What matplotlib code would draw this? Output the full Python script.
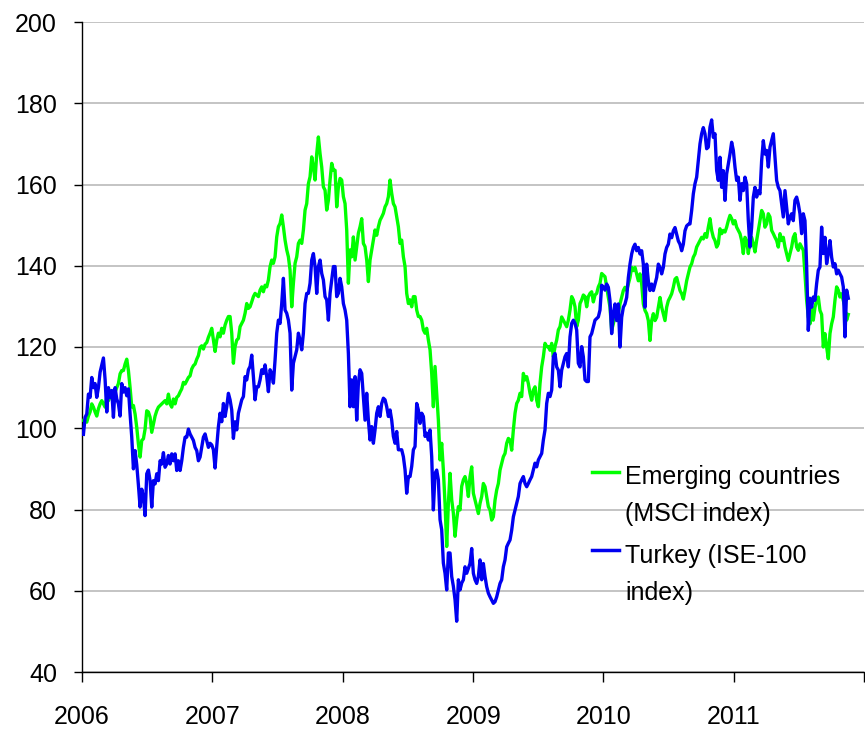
import matplotlib
matplotlib.use('Agg')
import matplotlib.pyplot as plt
from matplotlib.lines import Line2D
import pandas as pd

plt.rcParams['font.family'] = ['Liberation Sans', 'DejaVu Sans']

# index values (start 2006 = ~100), sampled roughly every 4-5 days
msci_2006 = [101.9, 101.7, 101.5, 103, 104, 106, 105.2, 104, 103, 104.8, 106, 106.8, 106, 105.2, 107.6, 106.8,
             107.6, 108.4, 107.6, 108.9, 110, 111, 113.4, 114.2, 114.2, 115.8, 117, 114.2, 110, 105.2, 105.6, 103.5,
             100.2, 96.1, 92.9, 97, 97.4, 99.8, 104.3, 104, 102.7, 99, 101, 103, 104.3, 105.2, 105.6, 106,
             106.4, 106.8, 106, 108.4, 106, 105.2, 107.2, 106, 107.6, 108, 108.9, 109.7, 111.3, 110.9, 111.7, 112.5,
             112.9, 114.6, 115.4, 115.8, 117, 117.9, 119.9, 120.3, 119.5, 120.7, 121.1, 122.4]
ise_2006 = [98.5, 102.7, 103.5, 108.4, 107.6, 112.5, 110, 111, 107.6, 110, 113.8, 115.5, 117.3, 112, 104, 110,
            107.6, 109.3, 102.7, 110, 107.2, 106, 103, 111, 108.9, 110, 108, 109.7, 103.5, 97.8, 90, 94.5,
            91, 86, 80.6, 85, 83, 78.5, 88.8, 89.7, 87.1, 80.6, 87.1, 86.3, 88.8, 87.1, 92, 91.2,
            94, 90.4, 91.2, 93.3, 91.2, 93.7, 92, 93.7, 89.6, 92, 89.6, 92, 95.3, 97.8, 97.8, 99.8,
            98.6, 97.8, 97, 95.3, 94.5, 92, 92.9, 95.3, 97.8, 98.6, 97, 95.3]

msci_2007 = [123.4, 124.6, 121.7, 118.9, 121.7, 123.4, 122.5, 124.6, 123.4, 125.4, 126.6, 127.5, 127.5, 123.4, 116,
             120.1, 121.7, 122.1, 125, 125.8, 126.6, 128.3, 130.7, 129.5, 129.9, 131.1, 132.4, 133.2, 132.8, 132.4,
             134, 134.8, 133.6, 135.2, 134.8, 136.5, 139.8, 141.4, 140.6, 142.2, 147.1, 149.6, 150.4, 152.5, 149.6,
             146.3, 143.9, 142.2, 138.9, 129.9, 135.7, 140.6, 142.2, 145.5, 146.3, 145.5, 148.8, 153.7, 155.3, 160.2,
             161.9, 166.8, 164.3, 161.1, 167.6, 171.7, 167.6, 164.3, 159.4, 158.6, 153.7, 156.1, 161.1, 165.2, 163.5]
ise_2007 = [96.3, 95.9, 94.7, 90.2, 95.5, 100.4, 103.7, 101.6, 106.1, 102.9, 105.3, 108.6, 107, 104.5, 97.5,
            101.6, 99.6, 103.7, 105.3, 107, 107.8, 112.7, 111.9, 114.4, 115.2, 118, 112.7, 107, 110.2, 110.2,
            111.9, 114.4, 113.5, 115.6, 112.7, 109, 114.4, 113.5, 111.1, 116.8, 123.4, 126.6, 125.8, 130.7, 136.9,
            129.1, 128.3, 126.6, 123.4, 109.4, 116, 117.6, 119.3, 123.4, 121.7, 119.3, 123.4, 130.7, 133.2, 133.2,
            135.7, 141.4, 143, 139.8, 133.2, 139.8, 141.4, 138.1, 136.5, 132.4, 131.6, 126.6, 133.2, 136.5, 139.8]

msci_2008 = [163.5, 154.5, 159.4, 161.5, 161.1, 157, 155.3, 148.8, 135.7, 143.9, 142.2, 147.1, 141.4, 144.7, 148,
             149.6, 151.6, 145.5, 144.7, 141.4, 136.1, 141.4, 143.9, 146.3, 148.8, 147.5, 149.6, 151.2, 152, 152.9,
             154.5, 155.3, 157, 161.1, 157.8, 155.3, 154.5, 152, 149.6, 145.5, 146.3, 142.2, 139.8, 133.2, 130.7,
             131.6, 129.9, 132.4, 132.4, 129.1, 127.5, 127.5, 126.6, 124.2, 123.4, 124.6, 121.7, 119.3, 113.5, 105.3,
             115.2, 108.6, 102, 92.2, 96.3, 89.7, 81.5, 70.9, 81.5, 88.9, 82.4, 79.1, 73.4, 77.5, 80.7,
             79.9, 85.7, 87.3]
ise_2008 = [139.8, 132.4, 133.2, 136.9, 134.8, 130.7, 129.1, 126.6, 118.4, 105.3, 111.9, 105.3, 112.7, 102, 111.1,
            114.4, 113.5, 107.8, 102, 108.6, 102, 97.1, 100.4, 96.3, 99.6, 103.7, 105.3, 102.9, 106.1, 107.4,
            107, 105.3, 102.9, 104.5, 102, 98, 96.3, 99.2, 94.7, 94.7, 94.7, 93, 89.8, 84, 88.1,
            88.1, 90.6, 94.7, 95.5, 106.1, 104.5, 101.2, 103.7, 102.9, 98, 98.8, 97.1, 99.6, 93, 79.9,
            88.9, 89.7, 87.3, 77.5, 75, 66.8, 64.3, 60.2, 69.3, 69.3, 63.5, 61.1, 57.8, 52.5, 62.7,
            60.2, 61.9, 62.7]

msci_2009 = [88.1, 86.4, 83.2, 88.1, 90.5, 84, 82.3, 80.7, 79, 81.5, 83.2, 86.4, 85.6, 83.2, 80.7, 79.9, 77.4,
             78.2, 82.3, 84.8, 86.4, 89.7, 91.4, 93, 93.8, 96.3, 97.5, 97.1, 94.6, 99.6, 103.7, 106.1, 106.9,
             108.6, 107.8, 113.5, 111.9, 112.7, 111, 108.6, 106.9, 109.4, 110.2, 106.9, 105.3, 111, 115.1, 117.6,
             120.9, 120.1, 120.1, 119.2, 120.9, 117.6, 120.1, 121.7, 124.2, 125, 127.4, 126.6, 125.8, 125, 126.6,
             129.1, 132.4, 131.6, 129.9, 125, 126.6, 130.7, 131.6, 132.8, 132.4, 129.9, 132.4, 133.2, 133.6, 131.1,
             132.8, 133.2, 134.8, 135.7, 138.1, 137.7, 137.3]
ise_2009 = [65.9, 64.3, 65.5, 66.7, 70.4, 64.3, 62.7, 61.8, 63.5, 67.6, 62.7, 66.7, 63.5, 61, 59.4, 58.5, 57.7,
            56.9, 57.3, 58.5, 60.2, 61.8, 62.7, 65.9, 67.6, 70.8, 71.7, 72.5, 74.9, 78.2, 79.9, 81.5, 83.2,
            86.4, 87.3, 88.1, 86.4, 85.6, 86.4, 87.3, 88.1, 89.7, 91.4, 90.5, 92.2, 93, 93.8, 97.1,
            99.6, 106.1, 108.6, 107.8, 109.4, 117.6, 118.4, 115.1, 114.3, 110.2, 114.3, 116, 117.6, 118.4, 115.1,
            122.5, 125.8, 126.6, 125.8, 124.2, 116, 115.1, 120.1, 117.6, 111.9, 111.5, 111.5, 122.5, 123.3, 125,
            126.6, 127, 127.4, 129.1, 135.2, 134.8, 134]

msci_2010 = [134.7, 132.2, 129.8, 124.1, 125.7, 127.3, 129, 128.2, 130.6, 132.2, 133.9, 134.7, 133.9, 135.5, 137.1,
             139.6, 138.8, 139.6, 138, 136.3, 138, 135.5, 130.6, 129, 128.2, 126.5, 121.6, 126.5, 128.2, 126.5,
             127.3, 129.8, 132.2, 129.8, 128.2, 126.5, 129.8, 131.4, 132.2, 133.1, 134.7, 136.7, 137.1, 135.5, 133.9,
             133.1, 131.8, 133.9, 136.3, 138,
             139.7, 140.5, 142.1, 142.9, 144.6, 145.4, 146.2, 147, 146.6, 147.9, 147, 149.5, 151.6, 148.7, 147,
             146.2, 144.6, 145.4]
ise_2010 = [135.5, 134.7, 131.4, 123.3, 128.2, 130.6, 126.5, 130.6, 120, 127.3, 129.8, 130.6, 132.2, 137.1, 140.4,
            142.9, 144.5, 145.3, 143.7, 144.5, 142.9, 143.7, 140.4, 129.8, 140.4, 136.3, 133.9, 135.5, 133.9, 135.5,
            137.1, 140.4, 139.6, 138, 139.6, 142.9, 144.5, 145.3, 147.8, 146.9, 148.6, 149.4, 147.8, 146.1, 145.3,
            143.7, 145.3, 148.6, 149.8, 150.2,
            150.3, 153.6, 157.7, 160.2, 161.8, 165.9, 170, 172.5, 174, 172.5, 168.8, 169.2, 174.1, 175.9, 171.6,
            172.5, 163.4, 161]

msci_2011 = [149.1, 147.9, 148.7, 148.3, 149.5, 151.1, 152.4, 151.6, 150.3, 151.1, 149.5, 148.7, 147.9, 146.2, 143,
             147, 146.2, 143, 146.2, 147, 145.4, 143.4, 146.2, 148.7, 151.1, 153.6, 152.8, 149.5, 150.3, 152.8,
             152, 148.7, 147.9, 147, 146.2, 144.6, 147.9, 146.2, 147, 144.6, 143, 141.3, 143, 144.6, 147,
             147.9, 144.6, 143.8, 145.4, 144.6, 143.8, 138, 131.5, 127.4, 125.7, 129.8, 126.6, 129.8, 131.5, 132.3,
             129, 128, 120, 123.3, 120, 117.1, 123.3, 125.7, 127.4, 131.5, 134.8, 134, 132.3, 133.1, 131.5,
             129.8, 126.6, 128]
ise_2011 = [166.7, 159.3, 163.4, 156.1, 162.6, 165.1, 167.5, 170.4, 168.4, 164.3, 161, 161.8, 156.1, 160.2, 158.5,
            161.8, 160.2, 151.1, 144.6, 149.5, 156.9, 159.3, 156.9, 158.5, 157.7, 165.9, 170.8, 167.5, 168.4, 164.3,
            169.2, 170.8, 172.5, 166.7, 161, 159.3, 158.5, 155.2, 152, 158.5, 154.4, 150.3, 152, 152.8, 151.1,
            156.1, 156.9, 155.2, 152.8, 147.9, 152.8, 151.1, 140, 124.1, 132, 129.8, 132.3, 131.5, 135.6, 138.9,
            139.7, 149.5, 143, 147, 140.5, 143, 146.2, 142.1, 139.7, 140.5, 138, 138.9, 138, 137.2, 134.8,
            122.5, 134, 132]

labels = ['Emerging countries\n(MSCI index)', 'Turkey (ISE-100\nindex)']
year_ticks = ['2006', '2007', '2008', '2009', '2010', '2011', '']

for a, b in [(msci_2006, ise_2006), (msci_2007, ise_2007), (msci_2008, ise_2008),
             (msci_2009, ise_2009), (msci_2010, ise_2010), (msci_2011, ise_2011)]:
    assert len(a) == len(b), (len(a), len(b))

msci = msci_2006 + msci_2007 + msci_2008 + msci_2009 + msci_2010 + msci_2011
ise = ise_2006 + ise_2007 + ise_2008 + ise_2009 + ise_2010 + ise_2011
dates = pd.date_range('2006-01-05', '2011-11-18', periods=len(msci))

GREEN = '#00ff00'
BLUE = '#0000f0'
FS = 18

fig = plt.figure(figsize=(8.65, 7.34), dpi=100)
ax = fig.add_axes([82 / 865, 62 / 734, 782 / 865, 650 / 734])

ax.plot(dates, msci, color=GREEN, lw=2.4, zorder=3)
ax.plot(dates, ise, color=BLUE, lw=2.4, zorder=4)

ax.set_ylim(40, 200)
ax.set_yticks(range(40, 201, 20))
ax.set_xlim(pd.Timestamp('2006-01-01'), pd.Timestamp('2012-01-01'))
ax.set_xticks([pd.Timestamp(f'{y}-01-01') for y in range(2006, 2013)])
ax.set_xticklabels(year_ticks)

ax.yaxis.grid(True, color='#bfbfbf', lw=1.3)
ax.set_axisbelow(True)
for s in ['top', 'right']:
    ax.spines[s].set_visible(False)
for s in ['left', 'bottom']:
    ax.spines[s].set_color('black')
    ax.spines[s].set_linewidth(1.0)

ax.tick_params(axis='x', direction='out', length=7, width=1, pad=17, labelsize=FS)
ax.tick_params(axis='y', direction='out', length=6, width=1, pad=12, labelsize=FS)

# legend drawn by hand so the key sits on the first text line
fig.add_artist(Line2D([592 / 865, 619 / 865], [1 - 472 / 734, 1 - 472 / 734], color=GREEN, lw=2.5))
fig.add_artist(Line2D([592 / 865, 619 / 865], [1 - 550 / 734, 1 - 550 / 734], color=BLUE, lw=2.5))
fig.text(625 / 865, 1 - 465 / 734, labels[0], fontsize=FS, va='top', ha='left', linespacing=1.7)
fig.text(625 / 865, 1 - 544 / 734, labels[1], fontsize=FS, va='top', ha='left', linespacing=1.7)

fig.savefig('out.png', dpi=100)
